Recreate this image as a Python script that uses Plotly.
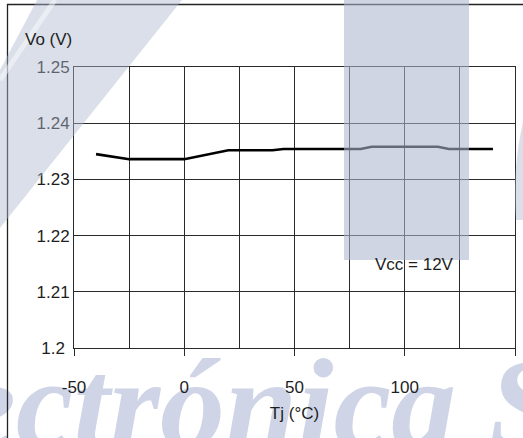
import plotly.graph_objects as go

# Data
temp_c = [-40, -25, 0, 20, 40, 45, 80, 85, 115, 120, 140]
vo_v = [1.2345, 1.2336, 1.2336, 1.2352, 1.2352, 1.2354, 1.2354, 1.2358, 1.2358, 1.2354, 1.2354]
x_ticks = [-50, 0, 50, 100, 150]
y_ticks = [1.2, 1.21, 1.22, 1.23, 1.24, 1.25]
y_tick_text = ["1.2\u00a0", "1.21", "1.22", "1.23", "1.24", "1.25"]

W, H = 523, 438
L, R, T, B = 74, 8, 67, 90
PW, PH = W - L - R, H - T - B


def px(xp):
    return (xp - L) / PW


def py(yp):
    return (H - B - yp) / PH


FONT = "Liberation Sans, Arial, sans-serif"
TXT = "#1e1e1e"
GRID = "#2a2a2a"
WM = "rgb(172,183,207)"

fig = go.Figure()
fig.add_trace(go.Scatter(x=temp_c, y=vo_v, mode="lines",
                         line=dict(color="black", width=2.6),
                         showlegend=False, hoverinfo="skip"))

shapes = [
    # watermark text (below)
    dict(type="rect", xref="paper", yref="paper", x0=px(-45), x1=px(700), y0=py(462), y1=py(300),
         line=dict(width=0), fillcolor="rgba(0,0,0,0)", layer="below",
         label=dict(text="ectrónica S", textposition="bottom left", padding=0,
                    font=dict(family="Liberation Serif", size=130, color="#cfd5e6",
                              weight="bold", style="italic"))),
    # outer frame
    dict(type="line", xref="paper", yref="paper", x0=px(7.5), x1=px(7.5), y0=py(440), y1=py(4),
         line=dict(color="#222", width=1.3), layer="above"),
    dict(type="line", xref="paper", yref="paper", x0=px(7), x1=px(530), y0=py(4.5), y1=py(4.5),
         line=dict(color="#222", width=1.3), layer="above"),
    # vertical watermark band
    dict(type="rect", xref="paper", yref="paper", x0=px(344), x1=px(469), y0=py(260), y1=py(-5),
         line=dict(width=0), fillcolor=WM, opacity=0.58, layer="above"),
    # diagonal watermark band
    dict(type="path", xref="paper", yref="paper",
         path=f"M {px(37)} {py(0)} L {px(182)} {py(0)} L {px(0)} {py(228)} L {px(0)} {py(70)} Z",
         line=dict(width=0), fillcolor=WM, opacity=0.45, layer="above"),
    dict(type="line", xref="paper", yref="paper", x0=px(55), y0=py(0), x1=px(0), y1=py(80),
         line=dict(color="white", width=5), opacity=0.45, layer="above"),
    # small watermark fragment at right edge
    dict(type="path", xref="paper", yref="paper",
         path=f"M {px(523)} {py(122)} Q {px(512)} {py(170)} {px(516)} {py(220)} L {px(523)} {py(220)} Z",
         line=dict(width=0), fillcolor=WM, opacity=0.45, layer="above"),
]

fig.update_layout(
    width=W, height=H,
    margin=dict(l=L, r=R, t=T, b=B),
    paper_bgcolor="white", plot_bgcolor="rgba(0,0,0,0)",
    font=dict(family=FONT, size=17, color=TXT),
    shapes=shapes,
    annotations=[
        dict(text="Vo (V)", xref="paper", yref="paper", x=px(74), y=py(40),
             xanchor="right", yanchor="middle", showarrow=False, font=dict(size=17, color=TXT)),
        dict(text="Vcc = 12V", xref="x", yref="y", x=104.5, y=1.2148,
             xanchor="center", yanchor="middle", showarrow=False, font=dict(size=17, color=TXT)),
    ],
)
fig.update_xaxes(range=[-50, 150], tickvals=x_ticks, ticktext=[str(v) for v in x_ticks],
                 showgrid=True, gridcolor=GRID, gridwidth=1,
                 minor=dict(tickvals=[-25, 25, 75, 125], showgrid=True, gridcolor=GRID, gridwidth=1),
                 ticks="outside", ticklen=7, tickcolor=GRID, ticklabelstandoff=17,
                 showline=True, linecolor=GRID, linewidth=1, mirror=True, zeroline=False,
                 title=dict(text="Tj (°C)", standoff=10, font=dict(size=17, color=TXT)))
fig.update_yaxes(range=[1.2, 1.25], tickvals=y_ticks, ticktext=y_tick_text,
                 showgrid=True, gridcolor=GRID, gridwidth=1, ticks="",
                 showline=True, linecolor=GRID, linewidth=1, mirror=True, zeroline=False)

fig.write_html("out.html", config={"displayModeBar": False},
               post_script="document.body.style.margin='0';")
